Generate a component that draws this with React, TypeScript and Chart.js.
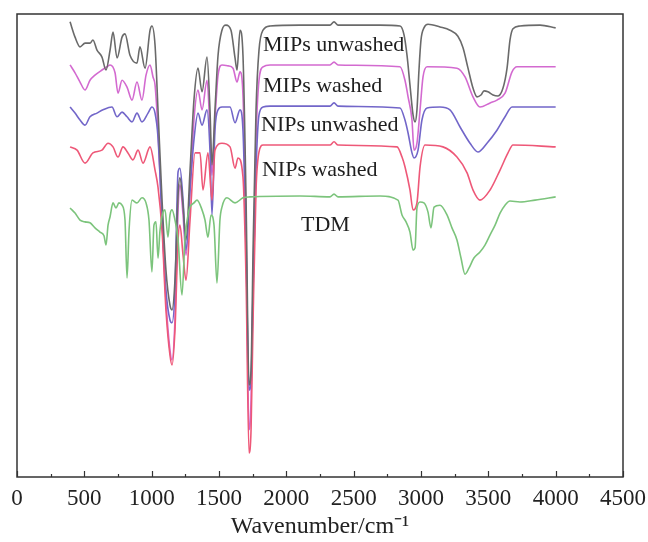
import React, { useEffect, useRef } from 'react';
import { Chart, registerables } from 'chart.js';

Chart.register(...registerables);

const FONT = "'Liberation Serif', 'Times New Roman', serif";

// x-axis tick values / labels
const xTickValues = [0, 500, 1000, 1500, 2000, 2500, 3000, 3500, 4000, 4500];
const xTickLabels = ['0', '500', '1000', '1500', '2000', '2500', '3000', '3500', '4000', '4500'];

const seriesNames = ['MIPs unwashed', 'MIPs washed', 'NIPs unwashed', 'NIPs washed', 'TDM'];

// MIPs unwashed
const mipsUnwashedWn = [394,431,468,505,542,564,594,631,661,691,713,743,780,802,839,891,913,951,988,1002,1025,1047,1077,1106,1136,1151,1173,1196,1210,1233,1255,1285,1314,1344,1374,1411,1433,1448,1470,1493,1522,1552,1589,1619,1634,1656,1678,1701,1723,1738,1753,1775,1797,1827,1879,2101,2324,2354,2384,2696,2844,2874,2896,2918,2941,2956,2970,2985,3000,3022,3052,3141,3215,3274,3312,3349,3386,3416,3445,3468,3497,3535,3572,3609,3639,3661,3683,3735,3884,4000];
const mipsUnwashedT = [98.3,95.0,92.9,93.7,93.7,94.4,92.2,90.7,87.9,92.2,96.1,90.5,95.0,95.7,91.1,89.4,92.9,88.3,96.5,97.4,93.3,79.3,59.8,44.7,37.1,36.1,42.5,60.9,64.6,58.7,51.2,66.3,81.4,88.3,83.2,90.7,79.3,67.4,79.3,91.1,96.5,97.6,96.5,90.5,87.9,96.5,91.1,59.8,19.9,23.1,49.0,79.3,92.2,96.5,97.4,97.6,97.6,98.3,97.6,97.6,97.4,95.5,91.1,84.7,78.2,76.7,79.3,87.9,94.4,97.0,97.8,97.2,96.5,95.2,92.7,88.3,84.0,82.1,82.5,83.4,83.2,82.5,82.3,84.0,88.3,94.4,96.8,97.4,97.6,97.0];

// MIPs washed
const mipsWashedWn = [394,431,468,505,542,579,631,668,691,728,750,780,817,854,891,928,958,988,1010,1025,1047,1077,1106,1136,1151,1173,1196,1210,1233,1255,1285,1314,1344,1374,1411,1433,1448,1470,1493,1522,1567,1604,1634,1656,1678,1701,1723,1738,1753,1775,1797,1827,1879,2324,2354,2384,2844,2881,2904,2933,2948,2970,2993,3015,3045,3267,3327,3386,3438,3513,3564,3624,3676,3713,4000];
const mipsWashedT = [89.0,87.3,85.3,83.6,85.7,86.8,87.9,88.6,89.0,87.3,82.9,85.7,84.2,81.4,85.3,81.4,86.8,89.0,86.4,84.7,74.9,55.5,38.2,27.4,25.3,33.9,57.7,63.1,56.6,47.9,62.0,77.1,83.6,79.3,85.7,74.9,65.2,77.1,86.8,89.0,88.8,88.3,85.3,87.5,82.5,53.3,10.2,16.6,42.5,72.8,85.7,88.6,89.0,89.0,89.6,89.0,88.6,85.7,82.1,77.1,70.6,72.1,79.3,86.4,88.6,88.3,86.4,82.1,79.9,80.8,81.4,82.9,87.5,88.6,88.6];

// NIPs unwashed
const nipsUnwashedWn = [394,431,468,505,542,594,639,705,743,780,817,854,891,928,973,1002,1025,1047,1077,1106,1136,1151,1173,1196,1210,1233,1255,1285,1314,1344,1374,1411,1433,1448,1470,1493,1522,1582,1619,1656,1678,1701,1723,1738,1753,1775,1797,1827,1879,2324,2354,2384,2844,2881,2904,2933,2948,2978,3007,3045,3141,3215,3290,3364,3423,3490,3564,3624,3676,4000];
const nipsUnwashedT = [79.9,78.6,77.1,76.0,77.8,78.6,79.3,79.9,77.8,78.8,77.8,76.7,78.6,76.7,78.6,79.9,78.6,73.4,55.5,40.4,33.9,33.3,40.4,65.9,66.7,59.8,49.0,62.0,72.8,78.6,76.0,79.3,70.6,56.6,74.9,79.3,79.9,79.9,76.5,79.3,74.9,49.0,18.8,21.0,40.4,66.3,78.2,79.9,80.1,80.1,80.8,80.1,79.7,77.1,74.3,70.0,68.9,70.6,77.1,79.7,79.9,79.3,75.6,72.1,70.2,72.1,74.9,77.8,79.9,79.9];

// NIPs washed
const nipsWashedWn = [394,446,505,564,631,676,713,750,787,824,861,899,936,988,1025,1047,1077,1106,1136,1151,1173,1196,1210,1233,1255,1285,1322,1359,1381,1418,1448,1470,1522,1582,1619,1641,1678,1701,1723,1738,1753,1775,1797,1827,1879,2324,2354,2384,2822,2859,2881,2918,2941,2970,2993,3030,3163,3267,3342,3386,3438,3513,3587,3646,3683,4000];
const nipsWashedT = [71.3,70.6,67.8,70.0,70.6,72.1,71.3,69.1,71.3,70.0,68.5,70.6,67.8,71.3,66.3,62.6,53.3,36.1,26.3,24.2,31.7,51.2,54.4,47.9,42.5,55.5,70.0,70.0,62.0,70.0,59.8,70.6,72.1,71.3,66.7,68.9,64.8,42.5,5.2,10.2,33.9,62.0,70.2,71.7,71.7,71.7,72.4,71.7,71.3,69.1,67.0,62.0,57.7,59.2,67.0,71.7,71.3,69.1,65.7,62.0,59.8,62.0,66.3,70.0,71.7,71.3];

// TDM
const tdmWn = [394,431,468,505,542,579,616,646,661,676,691,713,735,757,780,802,817,832,854,891,928,958,980,1002,1017,1032,1047,1062,1084,1099,1121,1136,1151,1173,1196,1225,1248,1270,1285,1314,1337,1374,1396,1418,1441,1463,1485,1507,1522,1559,1619,1678,1730,2101,2324,2354,2384,2696,2829,2859,2889,2918,2941,2956,2970,2993,3022,3052,3074,3097,3141,3193,3230,3267,3297,3327,3356,3393,3438,3475,3513,3550,3587,3624,3661,3735,3847,4000];
const tdmT = [58.1,57.0,55.5,55.1,54.9,53.8,52.9,52.1,50.1,54.4,56.2,59.2,58.1,59.2,58.7,55.5,43.0,53.3,59.8,59.2,60.3,59.2,55.5,44.3,54.4,55.1,47.3,53.3,57.2,57.7,51.8,56.6,57.7,55.5,51.2,39.3,51.8,56.6,58.3,59.2,59.8,57.7,55.5,51.8,56.6,54.4,41.9,55.5,58.3,60.3,59.2,60.3,60.5,60.7,60.5,61.1,60.5,60.7,59.8,56.6,55.1,52.9,49.0,49.5,58.1,59.4,59.2,57.2,53.8,58.3,58.7,56.6,53.8,51.2,47.3,43.8,45.1,47.3,48.6,50.1,52.3,54.4,57.0,58.7,59.6,59.4,59.8,60.5];

const seriesWn = [mipsUnwashedWn, mipsWashedWn, nipsUnwashedWn, nipsWashedWn, tdmWn];
const seriesT = [mipsUnwashedT, mipsWashedT, nipsUnwashedT, nipsWashedT, tdmT];
const seriesColors = ['#6a6a6a', '#d36ad0', '#7266c9', '#ee5878', '#7cc47c'];

// text label anchors (wavenumber, transmittance)
const labelWn = [1827, 1827, 1812, 1819, 2109];
const labelT = [93.3, 84.4, 76.0, 66.3, 54.4];

const framePlugin = {
  id: 'frameAndTicks',
  afterDraw(chart: any) {
    const { ctx, chartArea } = chart;
    const xs = chart.scales.x;
    const ys = chart.scales.y;
    ctx.save();
    // labels
    ctx.fillStyle = '#1e1e1e';
    ctx.font = `22px ${FONT}`;
    ctx.textAlign = 'left';
    ctx.textBaseline = 'middle';
    seriesNames.forEach((name, i) => {
      ctx.fillText(name, xs.getPixelForValue(labelWn[i]), ys.getPixelForValue(labelT[i]));
    });
    // frame
    ctx.strokeStyle = '#333';
    ctx.lineWidth = 1.5;
    ctx.strokeRect(chartArea.left, chartArea.top, chartArea.right - chartArea.left, chartArea.bottom - chartArea.top);
    // inward ticks on the bottom axis
    ctx.lineWidth = 1.2;
    for (let v = 0; v <= 4500; v += 250) {
      const px = Math.round(xs.getPixelForValue(v)) + 0.5;
      const len = v % 500 === 0 ? 6 : 3;
      ctx.beginPath();
      ctx.moveTo(px, chartArea.bottom);
      ctx.lineTo(px, chartArea.bottom - len);
      ctx.stroke();
    }
    ctx.restore();
  },
};

export default function App() {
  const ref = useRef<HTMLCanvasElement | null>(null);
  useEffect(() => {
    if (!ref.current) return;
    const datasets = [4, 0, 3, 2, 1].map((i) => ({
      label: seriesNames[i],
      data: seriesWn[i].map((x, k) => ({ x, y: seriesT[i][k] })),
      borderColor: seriesColors[i],
      borderWidth: 1.6,
      pointRadius: 0,
      fill: false,
      cubicInterpolationMode: 'monotone' as const,
    }));
    const chart = new Chart(ref.current, {
      type: 'line',
      data: { datasets },
      plugins: [framePlugin],
      options: {
        animation: false,
        responsive: false,
        devicePixelRatio: 1,
        layout: { padding: { left: 17, right: 25, top: 14, bottom: 0 } },
        plugins: { legend: { display: false }, tooltip: { enabled: false } },
        scales: {
          x: {
            type: 'linear',
            min: 0,
            max: 4500,
            afterBuildTicks: (scale: any) => {
              scale.ticks = xTickValues.map((v) => ({ value: v }));
            },
            afterFit: (scale: any) => {
              scale.height = 65;
              scale.paddingLeft = 0;
              scale.paddingRight = 0;
            },
            grid: { display: false, drawTicks: false },
            border: { display: false },
            ticks: {
              autoSkip: false,
              maxRotation: 0,
              padding: 8,
              color: '#222',
              font: { family: FONT, size: 23 },
              callback: (_v: any, i: number) => xTickLabels[i],
            },
            title: {
              display: true,
              text: 'Wavenumber/cm⁻¹',
              color: '#222',
              font: { family: FONT, size: 24 },
              padding: { top: 0, bottom: 1 },
            },
          },
          y: {
            type: 'linear',
            display: false,
            min: 0,
            max: 100,
          },
        },
      },
    });
    return () => chart.destroy();
  }, []);
  return (
    <div style={{ position: 'absolute', left: 0, top: 0, width: 648, height: 542, background: '#fff' }}>
      <canvas ref={ref} width={648} height={542} style={{ width: 648, height: 542 }} />
    </div>
  );
}
